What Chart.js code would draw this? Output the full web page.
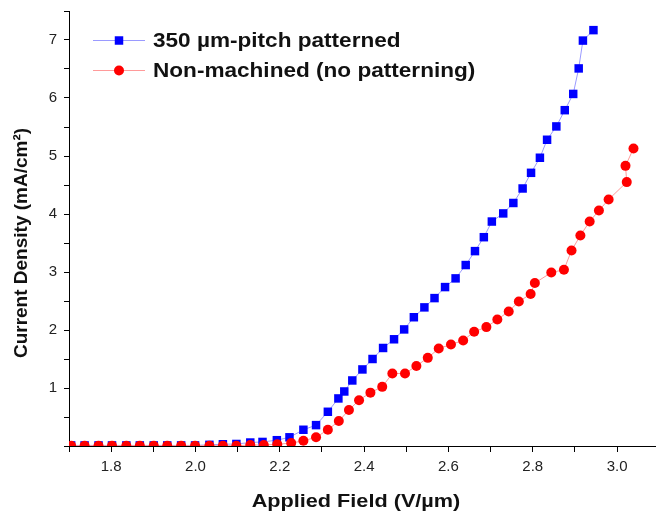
<!DOCTYPE html>
<html>
<head>
<meta charset="utf-8">
<script src="https://cdn.jsdelivr.net/npm/chart.js@4/dist/chart.umd.min.js"></script>
<style>
html,body{margin:0;padding:0;background:#fff;}
#wrap{width:656px;height:513px;position:relative;}
</style>
</head>
<body>
<div id="wrap"><canvas id="c" width="656" height="513"></canvas></div>
<script>
// ---- data ----
const seriesNames = ['350 \u00b5m-pitch patterned', 'Non-machined (no patterning)'];

const patternedX = [1.705,1.737,1.770,1.802,1.836,1.868,1.901,1.933,1.966,1.999,2.033,2.065,2.097,2.130,2.159,2.193,2.223,2.256,2.286,2.314,2.339,2.353,2.372,2.396,2.420,2.445,2.471,2.495,2.518,2.543,2.567,2.592,2.617,2.641,2.663,2.684,2.703,2.730,2.754,2.776,2.796,2.817,2.834,2.856,2.876,2.896,2.909,2.919,2.944];
const patternedY = [0.01,0.01,0.01,0.01,0.01,0.01,0.01,0.01,0.01,0.01,0.02,0.03,0.035,0.06,0.07,0.10,0.15,0.28,0.36,0.59,0.82,0.94,1.13,1.32,1.50,1.69,1.84,2.01,2.22,2.39,2.55,2.74,2.89,3.12,3.36,3.60,3.87,4.01,4.19,4.44,4.71,4.97,5.28,5.51,5.79,6.07,6.51,6.99,7.17];

const plainX = [1.705,1.737,1.770,1.802,1.836,1.868,1.901,1.933,1.966,1.999,2.033,2.065,2.097,2.130,2.162,2.194,2.227,2.256,2.286,2.314,2.340,2.364,2.388,2.415,2.443,2.467,2.497,2.524,2.551,2.577,2.606,2.635,2.661,2.690,2.716,2.743,2.767,2.795,2.805,2.844,2.874,2.892,2.913,2.935,2.957,2.980,3.023,3.020,3.039];
const plainY = [0.005,0.005,0.005,0.005,0.005,0.005,0.005,0.005,0.005,0.005,0.005,0.005,0.005,0.017,0.017,0.03,0.05,0.09,0.15,0.28,0.43,0.62,0.79,0.92,1.02,1.25,1.25,1.38,1.52,1.68,1.75,1.82,1.97,2.05,2.18,2.32,2.49,2.62,2.81,2.99,3.04,3.37,3.63,3.87,4.06,4.25,4.55,4.83,5.13];

const xTickValues = [1.7,1.8,1.9,2.0,2.1,2.2,2.3,2.4,2.5,2.6,2.7,2.8,2.9,3.0];
const xTickLabels = ['','1.8','','2.0','','2.2','','2.4','','2.6','','2.8','','3.0'];
const yTickValues = [0,0.5,1,1.5,2,2.5,3,3.5,4,4.5,5,5.5,6,6.5,7,7.5];
const yTickLabels = ['','','1','','2','','3','','4','','5','','6','','7',''];

const xTitle = 'Applied Field (V/\u00b5m)';
const yTitle = 'Current Density (mA/cm\u00b2)';

// ---- build ----
const toPts = (xs, ys) => xs.map((x, i) => ({x: x, y: ys[i]}));
const FONT = '"Liberation Sans", Arial, sans-serif';

const overlay = {
  id: 'overlay',
  afterDraw(chart) {
    const ctx = chart.ctx;
    ctx.save();
    ctx.fillStyle = '#111';
    ctx.font = 'bold 19px ' + FONT;
    ctx.textAlign = 'center';
    ctx.textBaseline = 'middle';
    ctx.save();
    ctx.translate(356, 502);
    ctx.scale(1.14, 1);
    ctx.fillText(xTitle, 0, 0);
    ctx.restore();
    ctx.save();
    ctx.translate(22, 243);
    ctx.rotate(-Math.PI / 2);
    ctx.fillText(yTitle, 0, 0);
    ctx.restore();
    const rows = [
      {ds: chart.data.datasets[0], y: 40},
      {ds: chart.data.datasets[1], y: 70}
    ];
    ctx.font = 'bold 21px ' + FONT;
    ctx.textAlign = 'left';
    rows.forEach(r => {
      ctx.strokeStyle = r.ds.borderColor;
      ctx.lineWidth = 1;
      ctx.beginPath();
      ctx.moveTo(93, r.y + 0.5);
      ctx.lineTo(145, r.y + 0.5);
      ctx.stroke();
      ctx.fillStyle = r.ds.pointBackgroundColor;
      Chart.helpers.drawPoint(ctx, {pointStyle: r.ds.pointStyle, radius: r.ds.pointRadius, borderWidth: 0}, 119, r.y + 0.5);
      ctx.fillStyle = '#111';
      ctx.save();
      ctx.translate(153, r.y + 1);
      ctx.scale(1.075, 1);
      ctx.fillText(r.ds.label, 0, 0);
      ctx.restore();
    });
    ctx.restore();
  }
};

new Chart(document.getElementById('c'), {
  type: 'line',
  data: {
    datasets: [
      {
        label: seriesNames[0],
        data: toPts(patternedX, patternedY),
        borderColor: '#9a9aff',
        borderWidth: 1,
        pointStyle: 'rect',
        pointRadius: 6,
        pointBackgroundColor: '#0000ff',
        pointBorderColor: '#0000ff',
        pointBorderWidth: 0,
        tension: 0,
        order: 2
      },
      {
        label: seriesNames[1],
        data: toPts(plainX, plainY),
        borderColor: '#ff9a9a',
        borderWidth: 1,
        pointStyle: 'circle',
        pointRadius: 5,
        pointBackgroundColor: '#ff0000',
        pointBorderColor: '#ff0000',
        pointBorderWidth: 0,
        tension: 0,
        order: 1
      }
    ]
  },
  options: {
    responsive: false,
    animation: false,
    devicePixelRatio: 1,
    layout: {autoPadding: false, padding: {top: 11, right: 1, left: 0, bottom: 0}},
    plugins: {legend: {display: false}, tooltip: {enabled: false}},
    scales: {
      x: {
        type: 'linear',
        min: 1.7,
        max: 3.09,
        afterBuildTicks: s => { s.ticks = xTickValues.map(v => ({value: v})); },
        afterFit: s => { s.height = 67; s.paddingLeft = 0; s.paddingRight = 0; },
        ticks: {
          autoSkip: false,
          maxRotation: 0,
          padding: 6,
          color: '#222',
          font: {family: FONT, size: 15},
          callback: (v, i) => xTickLabels[i]
        },
        grid: {drawOnChartArea: false, drawTicks: true, tickLength: 6, color: '#000', lineWidth: 1},
        border: {display: true, color: '#000', width: 1}
      },
      y: {
        type: 'linear',
        min: 0,
        max: 7.5,
        afterBuildTicks: s => { s.ticks = yTickValues.map(v => ({value: v})); },
        afterFit: s => { s.width = 69; s.paddingTop = 0; s.paddingBottom = 0; },
        ticks: {
          autoSkip: false,
          padding: 7,
          color: '#222',
          font: {family: FONT, size: 15},
          callback: (v, i) => yTickLabels[i]
        },
        grid: {drawOnChartArea: false, drawTicks: true, tickLength: 5, color: '#000', lineWidth: 1},
        border: {display: true, color: '#000', width: 1}
      }
    }
  },
  plugins: [overlay]
});
</script>
</body>
</html>
